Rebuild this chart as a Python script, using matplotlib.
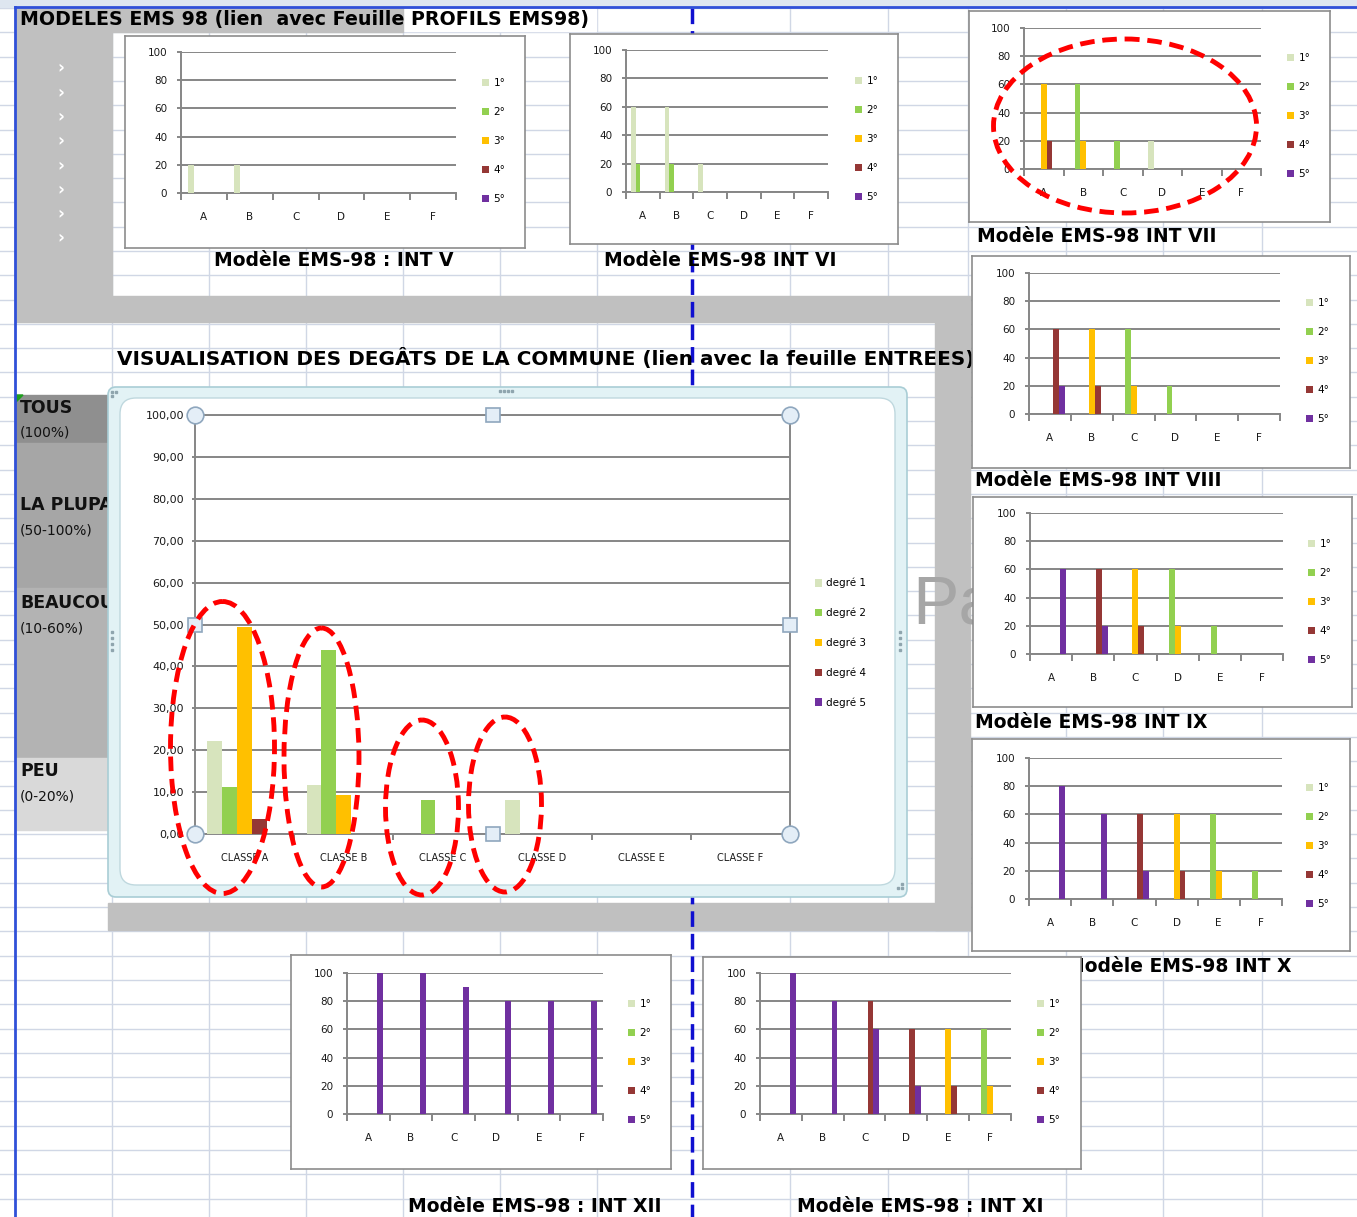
import numpy as np
import matplotlib
matplotlib.use('Agg')
import matplotlib.pyplot as plt
from matplotlib.patches import Rectangle, FancyBboxPatch, Ellipse, Polygon

W, H = 1357, 1217

# categories and series names
letters = ['A', 'B', 'C', 'D', 'E', 'F']
classes = ['CLASSE A', 'CLASSE B', 'CLASSE C', 'CLASSE D', 'CLASSE E', 'CLASSE F']
degree_short = ['1°', '2°', '3°', '4°', '5°']
degree_long = ['degré 1', 'degré 2', 'degré 3', 'degré 4', 'degré 5']
colors = ['#D7E4BD', '#92D050', '#FFC000', '#953735', '#7030A0']

# damage in the commune (%), one row per degree, one value per class
commune = [
    [22.3, 11.8, 0, 8.0, 0, 0],
    [11.2, 44.0, 8.0, 0, 0, 0],
    [49.3, 9.4, 0, 0, 0, 0],
    [3.6, 0, 0, 0, 0, 0],
    [0, 0, 0, 0, 0, 0],
]

# EMS-98 model profiles, one row per degree (1 to 5), one value per class A-F
int_v = [
    [20, 20, 0, 0, 0, 0],
    [0, 0, 0, 0, 0, 0],
    [0, 0, 0, 0, 0, 0],
    [0, 0, 0, 0, 0, 0],
    [0, 0, 0, 0, 0, 0],
]
int_vi = [
    [60, 60, 20, 0, 0, 0],
    [20, 20, 0, 0, 0, 0],
    [0, 0, 0, 0, 0, 0],
    [0, 0, 0, 0, 0, 0],
    [0, 0, 0, 0, 0, 0],
]
int_vii = [
    [0, 0, 0, 20, 0, 0],
    [0, 60, 20, 0, 0, 0],
    [60, 20, 0, 0, 0, 0],
    [20, 0, 0, 0, 0, 0],
    [0, 0, 0, 0, 0, 0],
]
int_viii = [
    [0, 0, 0, 0, 0, 0],
    [0, 0, 60, 20, 0, 0],
    [0, 60, 20, 0, 0, 0],
    [60, 20, 0, 0, 0, 0],
    [20, 0, 0, 0, 0, 0],
]
int_ix = [
    [0, 0, 0, 0, 0, 0],
    [0, 0, 0, 60, 20, 0],
    [0, 0, 60, 20, 0, 0],
    [0, 60, 20, 0, 0, 0],
    [60, 20, 0, 0, 0, 0],
]
int_x = [
    [0, 0, 0, 0, 0, 0],
    [0, 0, 0, 0, 60, 20],
    [0, 0, 0, 60, 20, 0],
    [0, 0, 60, 20, 0, 0],
    [80, 60, 20, 0, 0, 0],
]
int_xi = [
    [0, 0, 0, 0, 0, 0],
    [0, 0, 0, 0, 0, 60],
    [0, 0, 0, 0, 60, 20],
    [0, 0, 80, 60, 20, 0],
    [100, 80, 60, 20, 0, 0],
]
int_xii = [
    [0, 0, 0, 0, 0, 0],
    [0, 0, 0, 0, 0, 0],
    [0, 0, 0, 0, 0, 0],
    [0, 0, 0, 0, 0, 0],
    [100, 100, 90, 80, 80, 80],
]

AXIS = '#868686'
TXT = '#1a1a1a'

fig = plt.figure(figsize=(W / 100, H / 100), dpi=100)


def px_axes(x0, y0, x1, y1):
    return fig.add_axes([x0 / W, 1 - y1 / H, (x1 - x0) / W, (y1 - y0) / H])


# spreadsheet background
sheet = px_axes(0, 0, W, H)
sheet.set_xlim(0, W)
sheet.set_ylim(H, 0)
sheet.axis('off')

for x in [112, 209, 306, 403, 500, 597, 790, 888, 968, 1066, 1163, 1262]:
    sheet.axvline(x, color='#D0D7E5', lw=1, zorder=1)
for y in np.arange(8, H, 24.3):
    sheet.axhline(y, color='#D0D7E5', lw=1, zorder=1)

sheet.add_patch(Rectangle((0, 0), W, 7, color='#DEE6F0', zorder=2))
sheet.add_patch(Rectangle((404, 9), 192, 22, color='white', zorder=2))
grey = '#C0C0C0'
for x0, y0, x1, y1 in [(15, 8, 403, 32), (15, 32, 112, 297), (15, 296, 970, 322),
                       (935, 322, 970, 930), (108, 903, 970, 930)]:
    sheet.add_patch(Rectangle((x0, y0), x1 - x0, y1 - y0, color=grey, zorder=2))

# damage level cells on the left
cells = [('TOUS', '(100%)', 395, 443, '#8F8F8F', 408),
         ('LA PLUPART', '(50-100%)', 443, 588, '#A6A6A6', 505),
         ('BEAUCOUP', '(10-60%)', 588, 758, '#B3B3B3', 603),
         ('PEU', '(0-20%)', 758, 830, '#D9D9D9', 771)]
for name, rng, y0, y1, c, ty in cells:
    sheet.add_patch(Rectangle((15, y0), 93, y1 - y0, color=c, zorder=2))
    sheet.text(20, ty, name, fontsize=12.5, fontweight='bold', va='center', color='#111111', zorder=5)
    sheet.text(20, ty + 25, rng, fontsize=10, va='center', color='#111111', zorder=5)
sheet.add_patch(Polygon([(16, 395), (23, 395), (16, 402)], color='#1E9E1E', zorder=5))

for y in np.arange(68.5, 240, 24.3):
    sheet.text(61, y, '›', fontsize=12, fontweight='bold', color='white', ha='center', va='center', zorder=5)

sheet.text(20, 19, 'MODELES EMS 98 (lien  avec Feuille PROFILS EMS98)', fontsize=13.7,
           fontweight='bold', va='center', color='black', zorder=5)
sheet.text(117, 359, 'VISUALISATION DES DEGÂTS DE LA COMMUNE (lien avec la feuille ENTREES)',
           fontsize=14.4, fontweight='bold', va='center', color='black', zorder=5)
sheet.text(912, 605, 'Pa', fontsize=50, color='#A6A6A6', va='center', family='Liberation Sans', zorder=5)

# sheet borders and page break
sheet.plot([15, W], [7, 7], color='#3050D8', lw=2, zorder=8)
sheet.plot([15, 15], [7, H], color='#3050D8', lw=2, zorder=8)
sheet.plot([692, 692], [8, H], color='#1010D0', lw=2.5, ls=(0, (4.5, 2)), zorder=4)

# selected chart area of the commune chart
sheet.add_patch(FancyBboxPatch((108, 387), 799, 510, boxstyle='round,pad=0,rounding_size=8',
                               fc='#E2F2F5', ec='#A9CDD5', lw=1.2, zorder=6))
sheet.add_patch(FancyBboxPatch((120, 398), 775, 487, boxstyle='round,pad=0,rounding_size=16',
                               fc='white', ec='#BFD8DE', lw=1, zorder=7))
sheet.plot([500, 504, 508, 512], [391] * 4, 's', ms=1.8, color='#8FA5AE', zorder=8)
sheet.plot([112] * 4, [632, 638, 644, 650], 's', ms=1.8, color='#8FA5AE', zorder=8)
sheet.plot([900] * 4, [632, 638, 644, 650], 's', ms=1.8, color='#8FA5AE', zorder=8)
sheet.plot([112, 116, 112], [392, 392, 396], 's', ms=1.8, color='#8FA5AE', zorder=8)
sheet.plot([898, 902, 902], [888, 888, 884], 's', ms=1.8, color='#8FA5AE', zorder=8)


def small_chart(values, frame, plot, leg_xy, caption, cap_xy):
    fr = px_axes(*frame)
    fr.set_xticks([])
    fr.set_yticks([])
    for s in fr.spines.values():
        s.set_color('#8C8C8C')
        s.set_linewidth(1.2)

    ax = px_axes(*plot)
    ax.patch.set_visible(False)
    x = np.arange(len(letters))
    w = 0.14
    bars = [ax.bar(x + (i - 2) * w, vals, w, color=colors[i], zorder=3)
            for i, vals in enumerate(values)]
    ax.set_xlim(-0.5, 5.5)
    ax.set_ylim(0, 100)
    ax.set_yticks(np.arange(0, 101, 20))
    ax.set_axisbelow(True)
    ax.grid(axis='y', color=AXIS, lw=1.4)
    ax.set_xticks(x, letters)
    ax.set_xticks(np.arange(-0.5, 6, 1), minor=True)
    ax.tick_params(axis='x', which='major', length=0, pad=14, labelsize=7.5, labelcolor=TXT)
    ax.tick_params(axis='x', which='minor', length=5, width=1.4, color=AXIS)
    ax.tick_params(axis='y', length=3, width=1.4, color=AXIS, pad=7, labelsize=7.5, labelcolor=TXT)
    for side in ('top', 'right'):
        ax.spines[side].set_visible(False)
    for side in ('left', 'bottom'):
        ax.spines[side].set_color(AXIS)
        ax.spines[side].set_linewidth(1.4)
    ax.legend(bars, degree_short, loc='upper left',
              bbox_to_anchor=(leg_xy[0] / W, 1 - leg_xy[1] / H), bbox_transform=fig.transFigure,
              frameon=False, fontsize=7.5, handlelength=0.7, handleheight=0.7,
              handletextpad=0.4, labelspacing=1.82, borderpad=0, borderaxespad=0)
    sheet.text(cap_xy[0], cap_xy[1], caption, fontsize=13.5, fontweight='bold',
               va='center', ha='left', color='black', zorder=5)


small_chart(int_v, (125, 36, 525, 248), (181, 52, 456, 193), (482, 78), 'Modèle EMS-98 : INT V', (214, 261))
small_chart(int_vi, (570, 34, 898, 244), (626, 50, 828, 192), (855, 76), 'Modèle EMS-98 INT VI', (604, 260))
small_chart(int_vii, (969, 11, 1330, 222), (1024, 28, 1261, 169), (1287, 53), 'Modèle EMS-98 INT VII', (977, 237))
small_chart(int_viii, (972, 256, 1350, 468), (1029, 273, 1280, 414), (1306, 298), 'Modèle EMS-98 INT VIII', (975, 481))
small_chart(int_ix, (973, 497, 1352, 707), (1030, 513, 1283, 654), (1308, 539), 'Modèle EMS-98 INT IX', (975, 723))
small_chart(int_x, (972, 739, 1350, 951), (1029, 758, 1282, 899), (1306, 783), 'Modèle EMS-98 INT X', (1066, 966))
small_chart(int_xii, (291, 955, 671, 1169), (347, 973, 603, 1114), (628, 999), 'Modèle EMS-98 : INT XII', (408, 1207))
small_chart(int_xi, (703, 957, 1081, 1169), (760, 973, 1011, 1114), (1037, 999), 'Modèle EMS-98 : INT XI', (797, 1207))

# commune chart
mc = px_axes(195, 415, 790, 834)
mc.patch.set_visible(False)
xc = np.arange(len(classes))
wc = 0.15
main_bars = [mc.bar(xc + (i - 2) * wc, vals, wc, color=colors[i], zorder=3)
             for i, vals in enumerate(commune)]
mc.set_xlim(-0.5, 5.5)
mc.set_ylim(0, 100)
yt = np.arange(0, 101, 10)
mc.set_yticks(yt, [f'{v:.2f}'.replace('.', ',') for v in yt])
mc.set_axisbelow(True)
mc.grid(axis='y', color=AXIS, lw=1.4)
mc.set_xticks(xc, classes)
mc.set_xticks(np.arange(-0.5, 6, 1), minor=True)
mc.tick_params(axis='x', which='major', length=0, pad=14, labelsize=7, labelcolor=TXT)
mc.tick_params(axis='x', which='minor', length=4, width=1.4, color=AXIS)
mc.tick_params(axis='y', length=2, width=1.4, color=AXIS, pad=6, labelsize=8, labelcolor=TXT)
for s in mc.spines.values():
    s.set_color(AXIS)
    s.set_linewidth(1.4)
mc.legend(main_bars, degree_long, loc='upper left',
          bbox_to_anchor=(815 / W, 1 - 578 / H), bbox_transform=fig.transFigure,
          frameon=False, fontsize=7.5, handlelength=0.7, handleheight=0.7,
          handletextpad=0.4, labelspacing=1.85, borderpad=0, borderaxespad=0)
# selection handles of the plot area
mc.plot([0, 1, 0, 1], [0, 0, 1, 1], 'o', ms=12, mfc='#E4EEF7', mec='#8FA7BE', mew=1.2,
        transform=mc.transAxes, clip_on=False, zorder=10)
mc.plot([0.5, 0, 1, 0.5], [1, 0.5, 0.5, 0], 's', ms=10, mfc='#E4EEF7', mec='#8FA7BE', mew=1.2,
        transform=mc.transAxes, clip_on=False, zorder=10)

# red dashed highlights
over = px_axes(0, 0, W, H)
over.set_xlim(0, W)
over.set_ylim(H, 0)
over.axis('off')
over.patch.set_visible(False)
for cx, cy, ew, eh in [(1125, 126, 263, 174), (222.5, 747.5, 104, 292), (321.5, 757.5, 75, 259),
                       (422, 807.5, 73, 175), (505, 804.5, 73, 175)]:
    over.add_patch(Ellipse((cx, cy), ew, eh, fill=False, ec='#FF0000', lw=3.5, ls=(0, (3, 1.6))))

fig.savefig('out.png', dpi=100)
